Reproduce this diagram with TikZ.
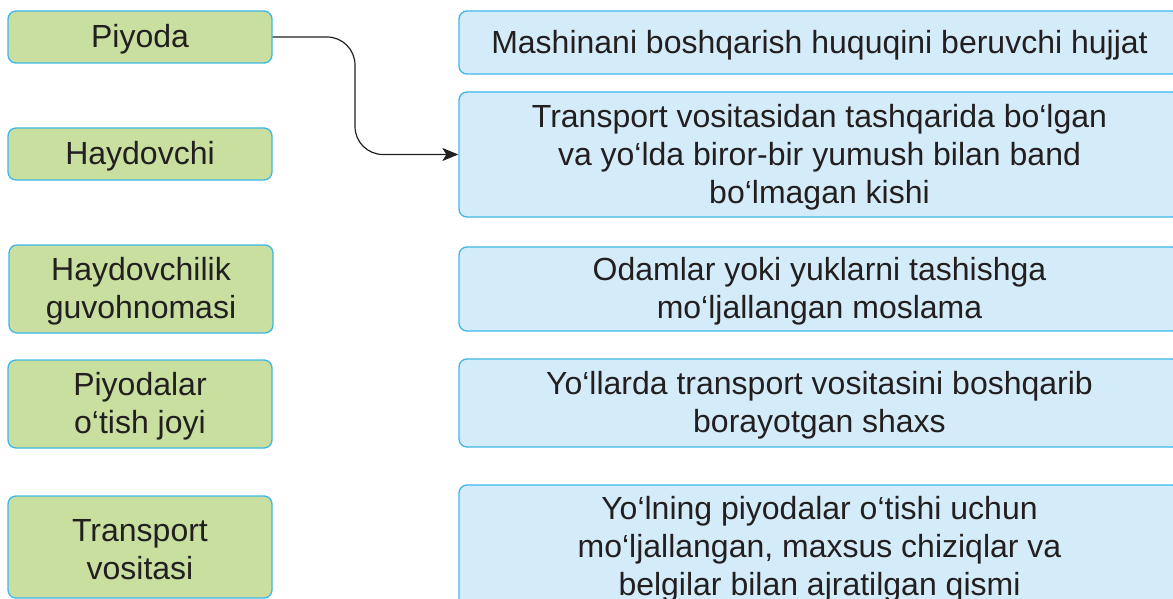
\documentclass[tikz,border=0pt]{standalone}
\usepackage{fontspec}
\setmainfont{Liberation Sans}
\usetikzlibrary{arrows.meta}
\definecolor{greenfill}{HTML}{C8DFA0}
\definecolor{bluefill}{HTML}{D4ECF9}
\definecolor{boxborder}{HTML}{3DB7E9}
\definecolor{txt}{HTML}{231F20}
\tikzset{
  basebox/.style={draw=boxborder, line width=1.3pt, rounded corners=8pt, inner sep=0pt},
  boxtext/.style={align=center, text=txt, inner sep=0pt, yshift=-2.5pt,
    font=\fontsize{32}{38}\selectfont},
  termbox/.style={basebox, fill=greenfill, minimum width=264pt},
  defbox/.style={basebox, fill=bluefill, minimum width=721pt},
  link/.style={draw=txt, line width=1.2pt, rounded corners=28pt,
    -{Stealth[length=16pt, width=13pt, inset=4pt]}}
}
\begin{document}
\begin{tikzpicture}[x=1pt, y=-1pt]
\useasboundingbox (0,0) rectangle (1173,599);
% left terms
\node[termbox, minimum height=52pt, label={[boxtext]center:Piyoda}] (L1) at (140,37) {};
\node[termbox, minimum height=52pt, label={[boxtext]center:Haydovchi}] (L2) at (140,154) {};
\node[termbox, minimum height=88pt, label={[boxtext]center:{Haydovchilik\\guvohnomasi}}] (L3) at (141,289) {};
\node[termbox, minimum height=88pt, label={[boxtext]center:{Piyodalar\\o‘tish joyi}}] (L4) at (140,404) {};
\node[termbox, minimum height=102pt, label={[boxtext]center:{Transport\\vositasi}}] (L5) at (140,547) {};
% right definitions
\node[defbox, minimum height=63pt, label={[boxtext]center:Mashinani boshqarish huquqini beruvchi hujjat}] (R1) at (819.5,42.5) {};
\node[defbox, minimum height=125pt, label={[boxtext]center:{Transport vositasidan tashqarida bo‘lgan\\va yo‘lda biror-bir yumush bilan band\\bo‘lmagan kishi}}] (R2) at (819.5,154.5) {};
\node[defbox, minimum height=84pt, label={[boxtext]center:{Odamlar yoki yuklarni tashishga\\mo‘ljallangan moslama}}] (R3) at (819.5,289) {};
\node[defbox, minimum height=88pt, label={[boxtext]center:{Yo‘llarda transport vositasini boshqarib\\borayotgan shaxs}}] (R4) at (819.5,403) {};
\node[defbox, minimum height=123pt, label={[boxtext]center:{Yo‘lning piyodalar o‘tishi uchun\\mo‘ljallangan, maxsus chiziqlar va\\belgilar bilan ajratilgan qismi}}] (R5) at (819.5,546.5) {};
% connector
\coordinate (bend) at (355,0);
\draw[link] (L1.east) -| (bend |- R2.west) -- (R2.west);
\end{tikzpicture}
\end{document}
